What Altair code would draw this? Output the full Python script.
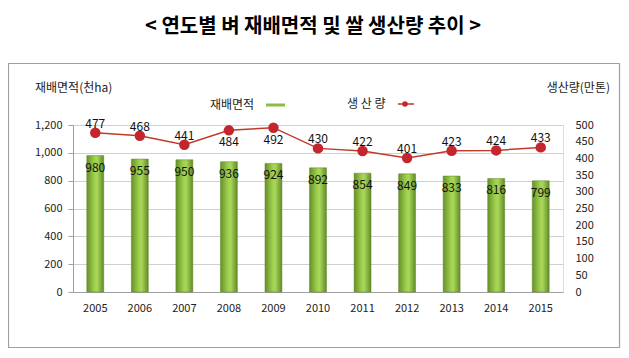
import altair as alt
import pandas as pd

years = ["2005", "2006", "2007", "2008", "2009", "2010", "2011", "2012", "2013", "2014", "2015"]
area = [980, 955, 950, 936, 924, 892, 854, 849, 833, 816, 799]
production = [477, 468, 441, 484, 492, 430, 422, 401, 423, 424, 433]

title_text = "< 연도별 벼 재배면적 및 쌀 생산량 추이 >"
left_title = "재배면적(천ha)"
right_title = "생산량(만톤)"
legend_area = "재배면적"
legend_prod = "생 산 량"

FONT = "Noto Sans CJK KR"
W, H = 490, 167

df = pd.DataFrame({"year": years, "area": area, "prod": production})

xaxis = alt.Axis(labelAngle=0, labelFont=FONT, labelFontSize=11, labelColor="#222",
                 ticks=False, domainColor="#a0a0a0", labelPadding=10, title=None)
xenc = alt.X("year:N", title=None, sort=years,
             scale=alt.Scale(paddingInner=0.62, paddingOuter=0.31), axis=xaxis)

yl = alt.Scale(domain=[0, 1200])
yr = alt.Scale(domain=[0, 500])

laxis = alt.Axis(values=[0, 200, 400, 600, 800, 1000, 1200], title=None,
                 labelExpr="format(datum.value, ',')",
                 labelFont=FONT, labelFontSize=11, labelColor="#222",
                 grid=True, gridColor="#d0d0d0", domainColor="#a0a0a0",
                 tickColor="#a0a0a0", tickSize=5, labelPadding=6)
raxis = alt.Axis(orient="right", values=list(range(0, 501, 50)), title=None,
                 labelFont=FONT, labelFontSize=11, labelColor="#222",
                 grid=False, domain=False, ticks=False, labelPadding=12)

grad = alt.Gradient(gradient="linear",
                    stops=[alt.GradientStop(color="#66902a", offset=0),
                           alt.GradientStop(color="#9fd04e", offset=0.45),
                           alt.GradientStop(color="#a8d85a", offset=0.6),
                           alt.GradientStop(color="#628a27", offset=1)],
                    x1=0, x2=1, y1=0, y2=0)

base = alt.Chart(df)
yL = alt.Y("area:Q", scale=yl, title=None, axis=laxis)
yR = alt.Y("prod:Q", scale=yr, title=None, axis=raxis)

bars = base.mark_bar(fill=grad, stroke="#5f8726", strokeWidth=0.5).encode(x=xenc, y=yL)
bar_text = base.mark_text(font=FONT, fontSize=12, color="#111", baseline="middle", dy=12).encode(
    x=xenc, y=yL, text="area:Q")
left = alt.layer(bars, bar_text)

line = base.mark_line(color="#c0392b", strokeWidth=1.5).encode(x=xenc, y=yR)
pts = base.mark_point(filled=True, shape="circle", size=110, color="#c4262e", opacity=1).encode(
    x=xenc, y=yR)
lab_above = base.transform_filter("datum.prod <= 480").mark_text(
    font=FONT, fontSize=12, color="#111", baseline="middle", dy=-9).encode(
    x=xenc, y=yR, text="prod:Q")
lab_below = base.transform_filter("datum.prod > 480").mark_text(
    font=FONT, fontSize=12, color="#111", baseline="middle", dy=12).encode(
    x=xenc, y=yR, text="prod:Q")
right = alt.layer(line, pts, lab_above, lab_below)

one = alt.Chart(pd.DataFrame({"k": [0]}))

frame = one.mark_rect(fill="transparent", stroke="#a0a0a0", strokeWidth=1.2).encode(
    x=alt.value(-64.5), x2=alt.value(546.5), y=alt.value(-61.5), y2=alt.value(222.5))

title = one.mark_text(text=title_text, font=FONT, fontSize=20, fontWeight="bold",
                      color="#000", align="center", baseline="middle").encode(
    x=alt.value(240), y=alt.value(-98))
ltitle = one.mark_text(text=left_title, font=FONT, fontSize=12, color="#222",
                       align="left", baseline="middle").encode(x=alt.value(-38), y=alt.value(-37))
rtitle = one.mark_text(text=right_title, font=FONT, fontSize=12, color="#222",
                       align="right", baseline="middle").encode(x=alt.value(537), y=alt.value(-37))
leg1 = one.mark_text(text=legend_area, font=FONT, fontSize=12, color="#222",
                     align="left", baseline="middle").encode(x=alt.value(137), y=alt.value(-20))
leg1_line = one.mark_rule(color="#8cbf3f", strokeWidth=3).encode(
    x=alt.value(193), x2=alt.value(212), y=alt.value(-20))
leg2 = one.mark_text(text=legend_prod, font=FONT, fontSize=12, color="#222",
                     align="left", baseline="middle").encode(x=alt.value(274), y=alt.value(-21))
leg2_line = one.mark_rule(color="#c0392b", strokeWidth=1.5).encode(
    x=alt.value(325), x2=alt.value(341), y=alt.value(-21))
leg2_pt = one.mark_point(filled=True, shape="circle", size=30, color="#c4262e", opacity=1).encode(
    x=alt.value(332), y=alt.value(-21))

deco = alt.layer(frame, title, ltitle, rtitle, leg1, leg1_line, leg2, leg2_line, leg2_pt)

chart = alt.layer(deco, left, right).resolve_scale(y="independent").properties(
    width=W, height=H,
    autosize=alt.AutoSizeParams(type="none"),
    padding={"left": 65, "top": 117, "right": 58, "bottom": 56},
).configure_view(stroke="#d0d0d0", strokeWidth=1).configure(background="white")

chart.save("out.html", embed_options={"renderer": "svg", "actions": False})
